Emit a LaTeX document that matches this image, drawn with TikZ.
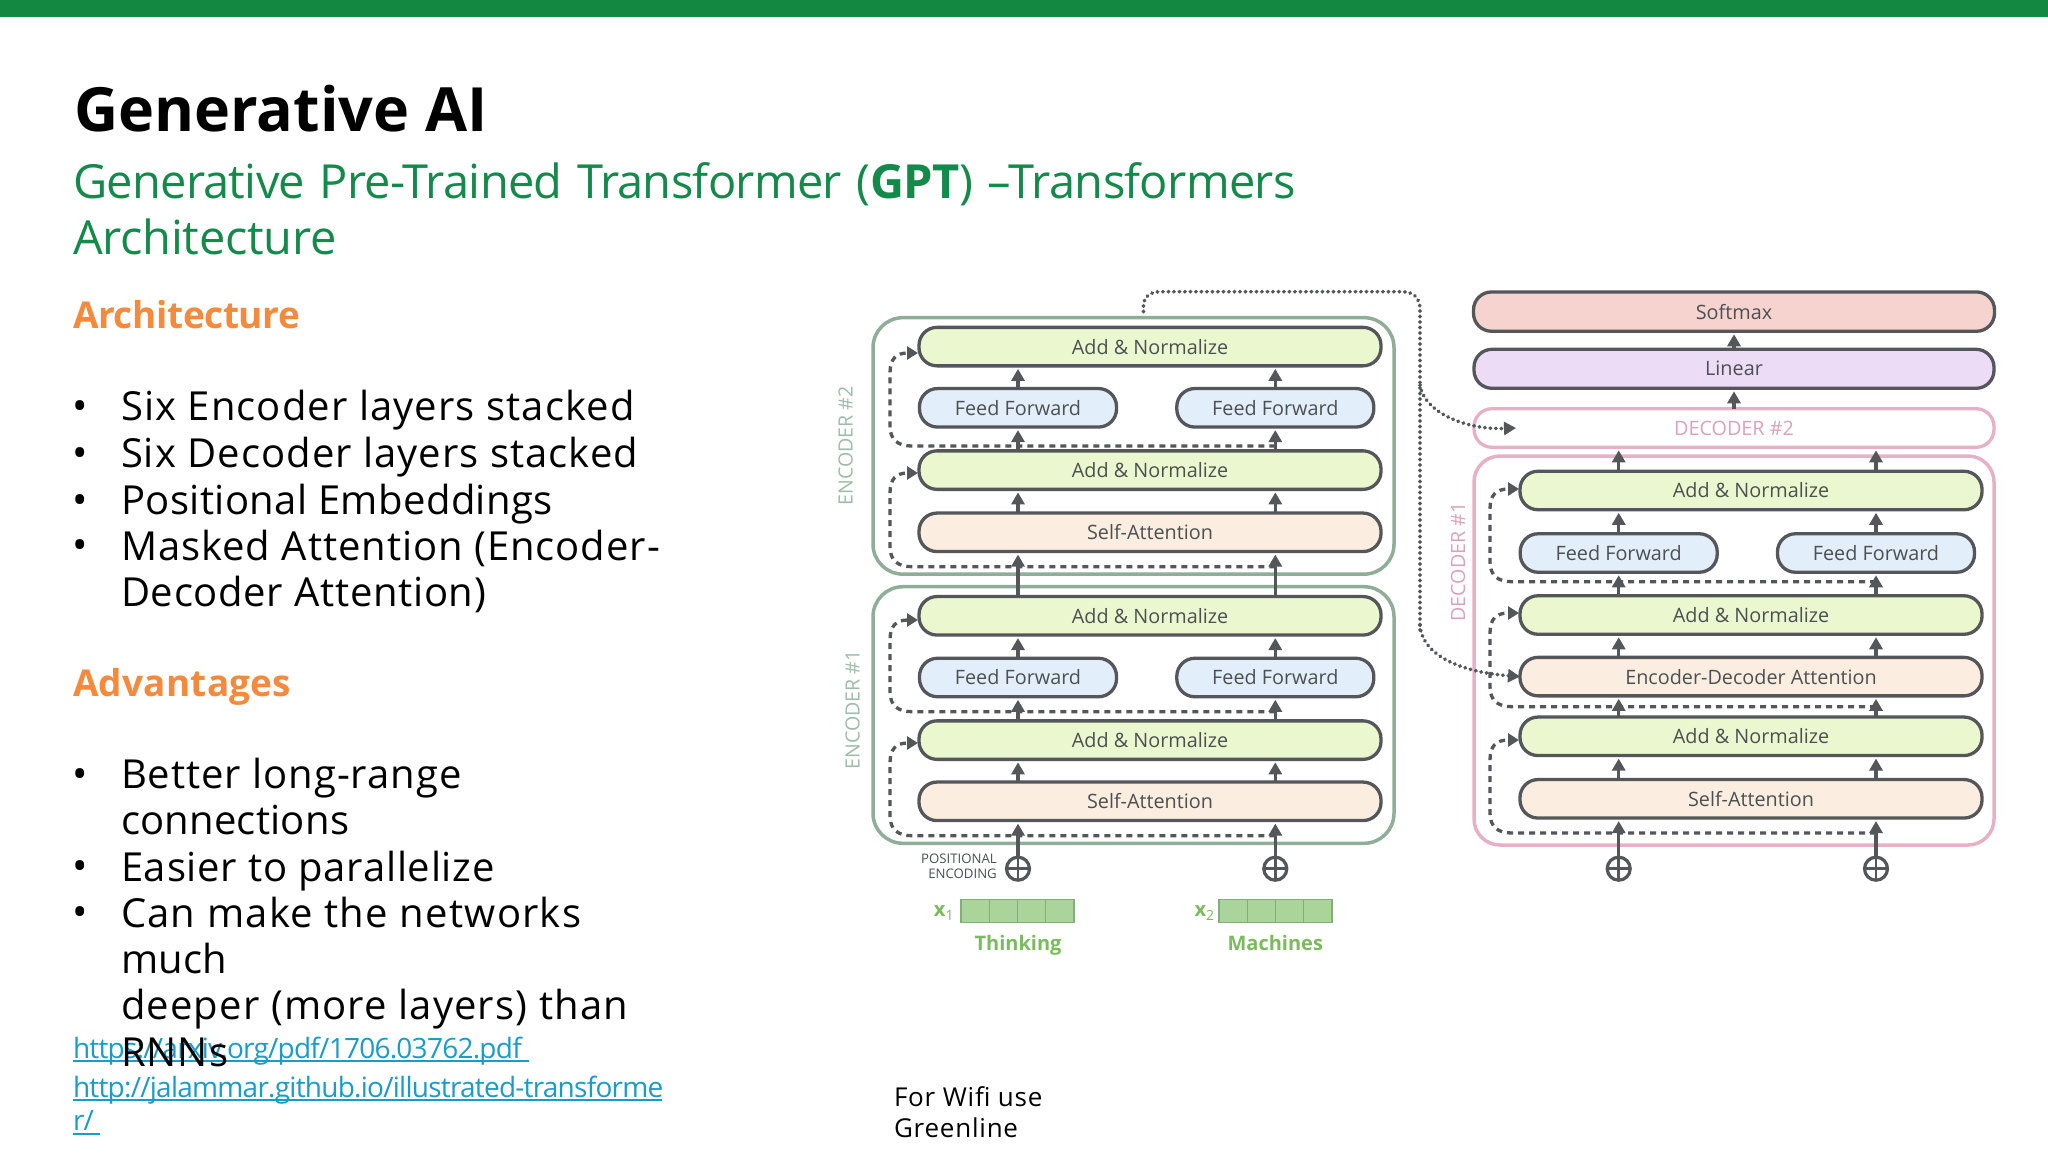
\documentclass[tikz,border=0pt]{standalone}
\usepackage{fontspec}
\usetikzlibrary{arrows.meta,calc}
\setmainfont{Open Sans}
\newfontfamily\subf[LetterSpace=-1.5,WordSpace=1.25]{Open Sans}
\newfontfamily\subg[LetterSpace=-0.5]{Open Sans}
\newfontfamily\linkf[LetterSpace=-2.7]{Open Sans}
\newfontfamily\bodyf[LetterSpace=3]{Open Sans}
\newfontfamily\headf[LetterSpace=-1]{Open Sans}
\newfontfamily\headg[LetterSpace=0.6]{Open Sans}
\definecolor{barg}{HTML}{128841}
\definecolor{subgc}{HTML}{148A4A}
\definecolor{orangeh}{HTML}{F58A3C}
\definecolor{linkc}{HTML}{1A9CC9}
\definecolor{stroke}{HTML}{54565A}
\definecolor{lab}{HTML}{4C5052}
\definecolor{anf}{HTML}{EBF8CF}
\definecolor{fff}{HTML}{E3EEFB}
\definecolor{saf}{HTML}{FBEEE0}
\definecolor{smf}{HTML}{F6D3CF}
\definecolor{lnf}{HTML}{ECDCF6}
\definecolor{encb}{HTML}{8FAE98}
\definecolor{enct}{HTML}{9DBCA8}
\definecolor{decb}{HTML}{E8B0C6}
\definecolor{dect}{HTML}{DBA2BA}
\definecolor{cellf}{HTML}{A9D59B}
\definecolor{cellb}{HTML}{82AE7C}
\definecolor{thk}{HTML}{7CBB5D}
\tikzset{
  txt/.style={inner sep=0pt,outer sep=0pt,anchor=base west},
  pill/.style={draw=stroke,line width=3.3pt,rounded corners=18pt,inner sep=0pt,outer sep=0pt,
    text=lab,font=\fontsize{19.8}{20}\selectfont,minimum height=38.5pt},
  an/.style={pill,fill=anf,minimum width=462pt},
  sa/.style={pill,fill=saf,minimum width=462pt},
  ff/.style={pill,fill=fff,minimum width=197pt},
  encbox/.style={draw=encb,line width=3.5pt,rounded corners=30pt,inner sep=0pt,outer sep=0pt,minimum width=521pt},
  decbox/.style={draw=decb,line width=3.5pt,rounded corners=26pt,inner sep=0pt,outer sep=0pt,minimum width=520pt},
  arr/.style={draw=stroke,line width=3.2pt,-{Triangle[length=12pt,width=13pt]},shorten >=3pt},
  skipl/.style={draw=stroke,line width=3.3pt,dash pattern=on 6pt off 5pt,-{Triangle[length=11pt,width=13pt]},shorten >=1pt},
  dotl/.style={draw=stroke,line width=3.8pt,line cap=round,dash pattern=on 0.4pt off 5.1pt},
  dotarr/.style={dotl,-{Triangle[length=12pt,width=13pt]}},
  plusc/.style={circle,draw=stroke,line width=3.2pt,minimum size=23pt,inner sep=0pt,outer sep=0pt,
    path picture={\draw[stroke,line width=2.5pt]
      (path picture bounding box.north) -- (path picture bounding box.south)
      (path picture bounding box.west) -- (path picture bounding box.east);}},
  cell/.style={draw=cellb,fill=cellf,line width=1.2pt,minimum width=28.25pt,minimum height=23.7pt,inner sep=0pt,outer sep=0pt},
  bigl/.style={inner sep=0pt,font=\fontsize{19.6}{20}\selectfont,rotate=90},
  wordl/.style={inner sep=0pt,anchor=base,text=thk,font=\fontsize{20}{20}\selectfont\bfseries},
}
\newcommand{\bodyline}[3]{\node[txt,text=black,font=\fontsize{40}{46}\bodyf\addfontfeature{LetterSpace=#2}\selectfont] at (121,#1) {#3};}
\newcommand{\bulletat}[1]{\node[txt,anchor=base,text=black,font=\fontsize{41}{41}\selectfont] at (80,#1) {•};}
\newcommand{\skp}[5]{\draw[skipl] (#1,#2) -- (#3+22,#2) .. controls (#3+8,#2) and (#3,#2-6) .. (#3,#2-20)
   -- (#3,#5+20) .. controls (#3,#5+6) and (#3+6,#5) .. (#4.west |- 0,#5);}
\begin{document}
\begin{tikzpicture}[x=1pt,y=-1pt]
\path[use as bounding box,fill=white] (0,0) rectangle (2048,1152);
\fill[barg] (0,0) rectangle (2048,17);
% titles
\node[txt,font=\fontsize{61}{61}\selectfont\bfseries] (title) at (74,131) {Generative AI};
\node[txt,text=subgc,font=\subf\fontsize{47}{47}\selectfont] (sub1) at (73,198) {Generative Pre-Trained Transformer ({\bfseries GPT}) –Transformers};
\node[txt,text=subgc,font=\subg\fontsize{47}{47}\selectfont] (sub2) at (73,254) {Architecture};
\node[txt,text=orangeh,font=\headf\fontsize{37}{37}\selectfont\bfseries] (h1) at (73,328) {Architecture};
\node[txt,text=orangeh,font=\headg\fontsize{37}{37}\selectfont\bfseries] (h2) at (73,696) {Advantages};
% links underneath
\node[txt,text=linkc,font=\linkf\fontsize{28}{28}\selectfont] (l1) at (73,1058) {https://arxiv.org/pdf/1706.03762.pdf };
\node[txt,text=linkc,font=\linkf\fontsize{28}{28}\selectfont] (l2) at (73,1097) {http://jalammar.github.io/illustrated-transforme};
\node[txt,text=linkc,font=\linkf\fontsize{28}{28}\selectfont] (l3) at (73,1130) {r/};
\draw[linkc,line width=2pt] (73,1061) -- (529,1061) (73,1100) -- (662,1100) (73,1134) -- (100,1134);
% body
\bulletat{420}\bodyline{420.5}{2.75}{Six Encoder layers stacked}
\bulletat{467}\bodyline{467}{2.6}{Six Decoder layers stacked}
\bulletat{514}\bodyline{514}{1}{Positional Embeddings}
\bulletat{559}\bodyline{560}{2.4}{Masked Attention (Encoder-}
\bodyline{606}{1.75}{Decoder Attention)}
\bulletat{788}\bodyline{788}{2.4}{Better long-range}
\bodyline{834}{0.6}{connections}
\bulletat{880}\bodyline{881}{1.9}{Easier to parallelize}
\bulletat{926}\bodyline{927}{3.1}{Can make the networks}
\bodyline{973}{0.6}{much}
\bodyline{1019}{2.9}{deeper (more layers) than}
\bodyline{1066}{2.5}{RNNs}
\node[txt,font=\bodyf\fontsize{26}{26}\selectfont] (w1) at (894,1106) {For Wifi use};
\node[txt,font=\bodyf\fontsize{26}{26}\selectfont] (w2) at (894,1137) {Greenline};
% outer boxes
\node[encbox,minimum height=256.5pt] (e2box) at (1133.5,445.9) {};
\node[encbox,minimum height=256.6pt] (e1box) at (1133.5,715) {};
\node[decbox,minimum height=389pt] (d1box) at (1734,650.5) {};
\node[pill,draw=decb,fill=white,text=dect,minimum width=520pt,minimum height=38.6pt] (d2box) at (1734,428) {DECODER \#2};
\node[pill,fill=smf,minimum width=521pt,minimum height=39.3pt] (softmax) at (1734,311.6) {Softmax};
\node[pill,fill=lnf,minimum width=520pt,minimum height=39pt] (linear) at (1734,368.8) {Linear};
% encoder 2
\node[an] (e2an2) at (1150,346.6) {Add \& Normalize};
\node[ff] (e2ffa) at (1018,407.8) {Feed Forward};
\node[ff] (e2ffb) at (1275.3,407.8) {Feed Forward};
\node[an] (e2an1) at (1150,470.1) {Add \& Normalize};
\node[sa] (e2sa) at (1150,532.3) {Self-Attention};
% encoder 1
\node[an] (e1an2) at (1150,615.8) {Add \& Normalize};
\node[ff] (e1ffa) at (1018,677.5) {Feed Forward};
\node[ff] (e1ffb) at (1275.3,677.5) {Feed Forward};
\node[an] (e1an1) at (1150,740.1) {Add \& Normalize};
\node[sa] (e1sa) at (1150,801.3) {Self-Attention};
% decoder 1
\node[an] (d1an3) at (1751,490.5) {Add \& Normalize};
\node[ff] (d1ffa) at (1618.7,553) {Feed Forward};
\node[ff] (d1ffb) at (1876,553) {Feed Forward};
\node[an] (d1an2) at (1751,615) {Add \& Normalize};
\node[sa] (d1eda) at (1751,676.6) {Encoder-Decoder Attention};
\node[an] (d1an1) at (1751,736.3) {Add \& Normalize};
\node[sa] (d1sa) at (1751,798.8) {Self-Attention};
% plus
\node[plusc] (pe1) at (1018,868.7) {};
\node[plusc] (pe2) at (1275.3,868.7) {};
\node[plusc] (pd1) at (1618.7,868.7) {};
\node[plusc] (pd2) at (1876,868.7) {};
% labels
\node[bigl,text=enct] (e2lab) at (845.6,446) {ENCODER \#2};
\node[bigl,text=enct] (e1lab) at (852.5,710) {ENCODER \#1};
\node[bigl,text=dect] (d1lab) at (1458,562) {DECODER \#1};
\node[inner sep=0pt,align=right,anchor=east,text=lab,font=\fontsize{13.2}{14.5}\selectfont] (posenc) at (997,866.5) {POSITIONAL\\ENCODING};
% input cells
\foreach \i in {0,...,3} {
  \node[cell] (xa\i) at ({975.1+\i*28.25},911) {};
  \node[cell] (xb\i) at ({1233.1+\i*28.25},911) {};
}
\node[inner sep=0pt,text=thk,font=\fontsize{20}{20}\selectfont\bfseries] (xal) at (944,913) {x\textsubscript{\fontsize{14}{14}\selectfont\mdseries 1}};
\node[inner sep=0pt,text=thk,font=\fontsize{20}{20}\selectfont\bfseries] (xbl) at (1204.6,913) {x\textsubscript{\fontsize{14}{14}\selectfont\mdseries 2}};
\node[wordl] (think) at (1018,950) {Thinking};
\node[wordl] (mach) at (1275.3,950) {Machines};
% skip connections
\skp{1275.3}{446}{890}{e2an2}{353}
\skp{1275.3}{566.7}{890}{e2an1}{473}
\skp{1275.3}{711.7}{890}{e1an2}{620}
\skp{1275.3}{835.7}{890}{e1an1}{743}
\skp{1876}{581.7}{1490}{d1an3}{489}
\skp{1876}{706.7}{1490}{d1an2}{613}
\skp{1876}{833}{1490}{d1an1}{740}
% straight arrows
\foreach \x/\a/\b in {e2ffa/e2an2/e2an1,e2ffb/e2an2/e2an1,e1ffa/e1an2/e1an1,e1ffb/e1an2/e1an1,d1ffa/d1an3/d1an2,d1ffb/d1an3/d1an2} {
  \draw[arr] (\x.north) -- (\x.north |- \a.south);
  \draw[arr] (\x.north |- \b.north) -- (\x.south);
}
\draw[arr] (e2ffa.south |- e2sa.north) -- (e2ffa.south |- e2an1.south);
\draw[arr] (e2ffb.south |- e2sa.north) -- (e2ffb.south |- e2an1.south);
\draw[arr] (e1ffa.south |- e1sa.north) -- (e1ffa.south |- e1an1.south);
\draw[arr] (e1ffb.south |- e1sa.north) -- (e1ffb.south |- e1an1.south);
\draw[arr] (e1ffa.south |- e1an2.north) -- (e1ffa.south |- e2sa.south);
\draw[arr] (e1ffb.south |- e1an2.north) -- (e1ffb.south |- e2sa.south);
\draw[arr] (pe1) -- (pe1 |- e1sa.south);
\draw[arr] (pe2) -- (pe2 |- e1sa.south);
\draw[arr] (pd1) -- (pd1 |- d1sa.south);
\draw[arr] (pd2) -- (pd2 |- d1sa.south);
\draw[arr] (d1ffa.south |- d1sa.north) -- (d1ffa.south |- d1an1.south);
\draw[arr] (d1ffb.south |- d1sa.north) -- (d1ffb.south |- d1an1.south);
\draw[arr] (d1ffa.south |- d1an1.north) -- (d1ffa.south |- d1eda.south);
\draw[arr] (d1ffb.south |- d1an1.north) -- (d1ffb.south |- d1eda.south);
\draw[arr] (d1ffa.south |- d1eda.north) -- (d1ffa.south |- d1an2.south);
\draw[arr] (d1ffb.south |- d1eda.north) -- (d1ffb.south |- d1an2.south);
\draw[arr] (d1ffa.north |- d1an3.north) -- (d1ffa.north |- d2box.south);
\draw[arr] (d1ffb.north |- d1an3.north) -- (d1ffb.north |- d2box.south);
\draw[arr] (d2box.north) -- (linear.south);
\draw[arr] (linear.north) -- (softmax.south);
% dotted encoder-decoder connections
\coordinate (dotstart) at ([xshift=10pt,yshift=6pt]e2box.north);
\draw[dotl] (dotstart) -- (1143.5,306) .. controls (1143.5,297) and (1150,291.7) .. (1160,291.7)
  -- (1402,291.7) .. controls (1414,291.7) and (1420,298) .. (1420,310) -- (1420,630);
\draw[dotarr] (1420,385) .. controls (1424,412) and (1465,430) .. ([xshift=42pt]d2box.west);
\draw[dotarr] (1420,625) .. controls (1422,655) and (1460,672) .. (d1eda.west);
\end{tikzpicture}
\end{document}
